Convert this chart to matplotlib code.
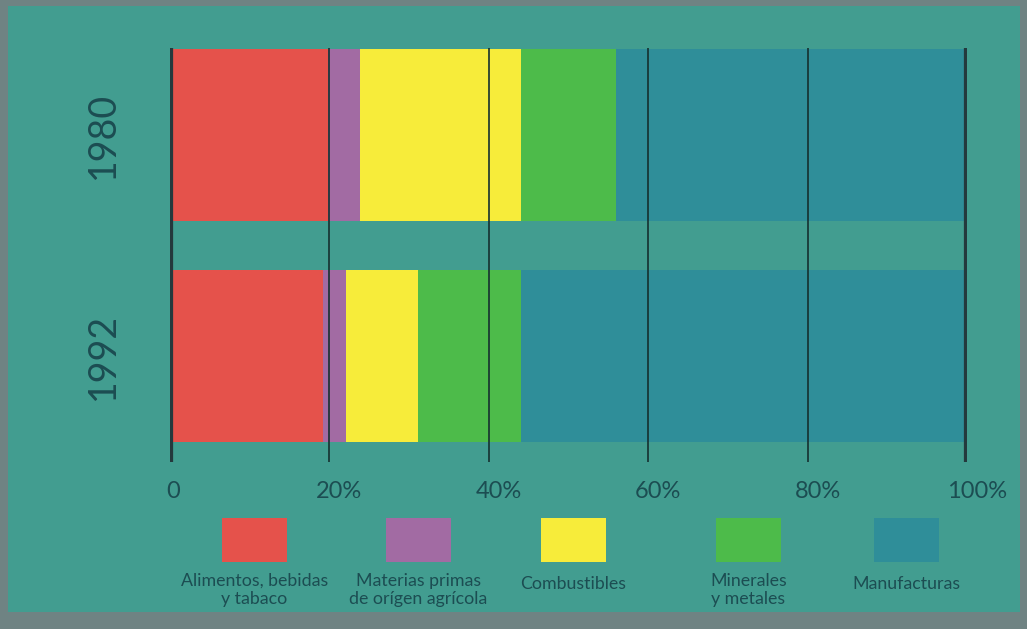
import matplotlib
matplotlib.use("Agg")
import matplotlib.pyplot as plt
from matplotlib.patches import Rectangle
import matplotlib.transforms as mtransforms

plt.rcParams['font.family'] = ['Lato', 'DejaVu Sans']

years = ["1980", "1992"]
categories = ["Alimentos, bebidas\ny tabaco", "Materias primas\nde orígen agrícola",
              "Combustibles", "Minerales\ny metales", "Manufacturas"]
values_1980 = [19.8, 4.1, 20.1, 12.0, 43.8]
values_1992 = [19.2, 2.9, 9.0, 13.0, 55.7]
tick_values = [0, 20, 40, 60, 80, 100]
tick_labels = ["0", "20%", "40%", "60%", "80%", "100%"]
colors = ["#e5524b", "#a26ba3", "#f7ec3a", "#4dbb4a", "#2f8e99"]

W, H = 1027, 629
fig = plt.figure(figsize=(W / 100, H / 100), dpi=100)
fig.patch.set_facecolor("#6f8383")

# teal panel as a background axes
bg = fig.add_axes([8 / W, 1 - 612 / H, (1020 - 8) / W, (612 - 6) / H], zorder=-5)
bg.set_facecolor("#429d90")
bg.set_xticks([]); bg.set_yticks([])
for s in bg.spines.values():
    s.set_visible(False)

text_color = "#1c4d52"

ax = fig.add_axes([170 / W, 1 - 462 / H, 797 / W, 414 / H], zorder=2)
ax.set_facecolor("none")
for s in ax.spines.values():
    s.set_visible(False)

data = [values_1980, values_1992]
bar_h = 0.775
for i, vals in enumerate(data):
    left = 0
    for v, c in zip(vals, colors):
        ax.barh(i, v, left=left, height=bar_h, color=c, edgecolor="none", zorder=2)
        left += v

ax.set_xlim(0, 100)
ax.set_ylim(1.48, -0.394)

# grid lines over bars
for t in tick_values:
    if t in (0, 100):
        ax.axvline(t, color="#24393d", lw=4.5, zorder=4)
    else:
        ax.axvline(t, color="#15302f", lw=1.2, zorder=4)

ax.set_yticks([])
ax.set_xticks(tick_values)
ax.set_xticklabels(tick_labels, fontsize=17, color=text_color)
ax.tick_params(axis="x", length=0, pad=14)
for lab, t in zip(ax.get_xticklabels(), tick_values):
    dx = 3 if t == 0 else 10
    lab.set_transform(lab.get_transform() + mtransforms.ScaledTranslation(dx / 100, 0, fig.dpi_scale_trans))

# year labels
for i, y in enumerate(years):
    ax.text(-8.4, i, y, rotation=90, ha="center", va="center", fontsize=27,
            fontweight="normal", color=text_color, transform=ax.transData)

# legend
sq_x = [222, 386, 541, 716, 874]
for x0, c, lab in zip(sq_x, colors, categories):
    fig.patches.append(Rectangle((x0 / W, 1 - 562 / H), 65 / W, 44 / H,
                                 transform=fig.transFigure, facecolor=c,
                                 edgecolor="none", zorder=1))
    cx = (x0 + 32.5) / W
    nlines = lab.count("\n") + 1
    ytop = 1 - (573 if nlines == 2 else 576) / H
    fig.text(cx, ytop, lab, ha="center", va="top", fontsize=12.8, color=text_color,
             linespacing=1.12)

fig.savefig("out.png", dpi=100, facecolor=fig.get_facecolor())
